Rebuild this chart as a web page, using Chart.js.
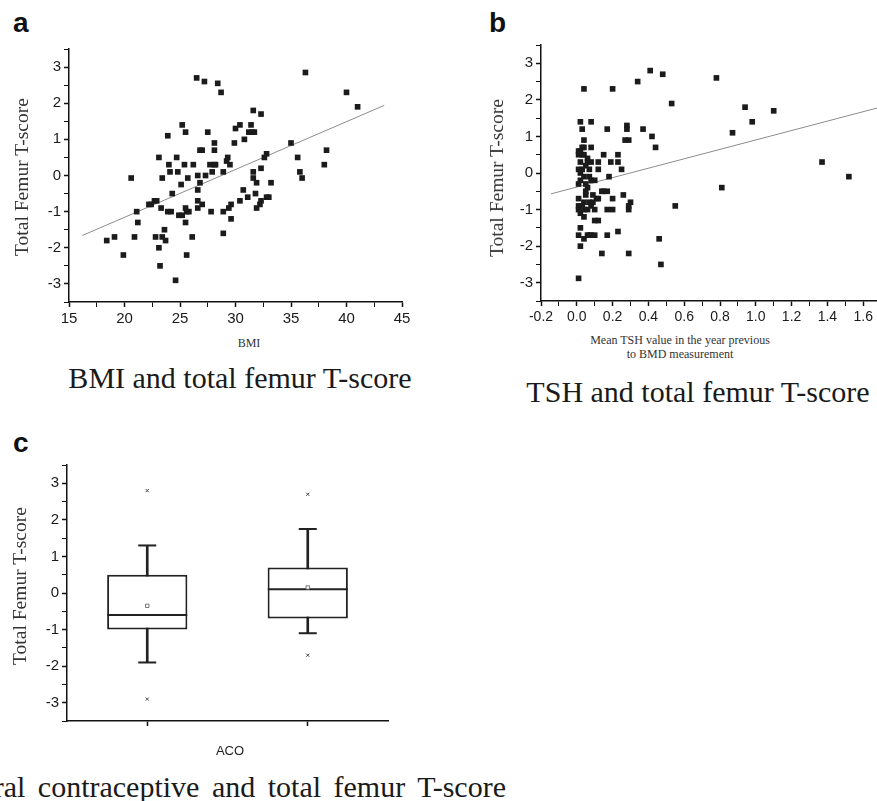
<!DOCTYPE html>
<html>
<head>
<meta charset="utf-8">
<script src="https://cdn.jsdelivr.net/npm/chart.js@4"></script>
<style>
html, body { margin: 0; padding: 0; width: 877px; height: 801px; overflow: hidden; background: #fff; }
.panel { position: absolute; }
.txt { position: absolute; white-space: nowrap; color: #1a1a1a; }
.letter { font: bold 28px "Liberation Sans", Arial, sans-serif; line-height: 28px; color: #111; }
.cap { font: 30px "Liberation Serif", "Times New Roman", serif; line-height: 30px; transform: translate(-50%, -50%); }
.ytitle { font: 19.5px "Liberation Serif", serif; line-height: 20px; color: #333; transform: translate(-50%, -50%) rotate(-90deg); }
.xtitle { font: 12px "Liberation Serif", serif; line-height: 14px; color: #333; text-align: center; transform: translate(-50%, -50%); }
</style>
</head>
<body>

<div class="txt letter" style="left:13px; top:9px;">a</div>
<div class="txt letter" style="left:489px; top:9px;">b</div>
<div class="txt letter" style="left:13px; top:429px;">c</div>

<div class="panel" style="left:19px; top:37px;"><canvas id="bmiChart" width="398" height="295"></canvas></div>
<div class="panel" style="left:491px; top:33px;"><canvas id="tshChart" width="423" height="298"></canvas></div>
<div class="panel" style="left:17px; top:453px;"><canvas id="acoChart" width="386" height="298"></canvas></div>

<div class="txt ytitle" style="left:22px; top:177px;">Total Femur T-score</div>
<div class="txt ytitle" style="left:497px; top:178px;">Total Femur T-score</div>
<div class="txt ytitle" style="left:20px; top:586px;">Total Femur T-score</div>

<div class="txt xtitle" style="left:249px; top:343px;">BMI</div>
<div class="txt xtitle" style="left:680px; top:347px;">Mean TSH value in the year previous<br>to BMD measurement</div>
<div class="txt" style="left:230px; top:750px; transform:translate(-50%,-50%); font:13px 'Liberation Sans', Arial, sans-serif; color:#222;">ACO</div>

<div class="txt cap" style="left:240px; top:378px;">BMI and total femur T-score</div>
<div class="txt cap" style="left:698px; top:392px;">TSH and total femur T-score</div>
<div class="txt" style="right:371px; top:772px; font:30px 'Liberation Serif', serif; line-height:30px; word-spacing:5px;">Oral contraceptive and total femur T-score</div>

<script>
// panel a: BMI vs T-score
var bmiX = [18.4, 19.1, 19.9, 20.6, 20.9, 21.1, 21.2, 22.2, 22.4, 22.7, 22.9, 22.8, 23.1, 23.1, 23.2, 23.3, 23.4, 23.4,
  23.6, 23.7, 23.9, 23.9, 24.0, 24.1, 24.2, 24.3, 24.6, 24.7, 24.8, 24.9, 25.1, 25.2, 25.2, 25.4, 25.5, 25.5, 25.5,
  25.6, 25.7, 25.6, 25.8, 26.1, 26.2, 26.5, 26.6, 26.6, 26.6, 26.6, 26.8, 26.8, 27.0, 27.0, 27.2, 27.3, 27.5, 27.8,
  27.7, 27.9, 28.1, 28.1, 28.1, 28.2, 28.4, 28.7, 28.9, 28.9, 28.9, 29.2, 29.3, 29.4, 29.5, 29.6, 29.6, 29.9, 30.0,
  30.4, 30.4, 30.7, 30.8, 31.1, 31.2, 31.4, 31.5, 31.6, 31.6, 31.6, 31.7, 31.8, 31.9, 31.9, 32.2, 32.3, 32.3, 32.3,
  32.6, 32.8, 32.8, 33.0, 33.2, 35.0, 35.6, 35.8, 36.0, 36.3, 38.0, 38.2, 40.0, 41.0];
var bmiY = [-1.8, -1.7, -2.2, -0.07, -1.7, -1.0, -1.3, -0.8, -0.8, -0.7, -0.7, -1.7, 0.5, -2.0, -2.5, -0.9, -0.07, -1.7,
  -1.5, -1.8, -1.0, 1.1, 0.3, 0.1, -1.0, -0.5, -2.9, 0.5, 0.1, -1.1, -0.25, -1.1, 1.4, 0.3, 1.2, -1.3, -0.9,
  -1.0, -0.07, -2.2, -1.0, -1.7, 0.3, 2.7, -0.4, -0.7, -0.9, 0.0, 0.7, -0.2, 0.7, -0.8, 2.6, 0.0, 1.2, -1.0,
  0.3, 0.1, 0.9, 0.7, 0.3, 0.3, 2.55, 2.3, 0.1, -1.0, -1.6, 0.4, 0.5, -0.9, 0.3, -0.8, -1.2, 0.9, 1.3,
  1.4, -0.7, -0.4, 1.0, -0.6, 1.2, 1.4, 1.2, 0.1, -0.07, 1.8, 1.2, -0.5, -0.9, -0.2, -0.8, -0.7, 0.2, 1.7,
  0.5, 0.6, -0.6, -0.6, -0.2, 0.9, 0.5, 0.1, -0.07, 2.85, 0.3, 0.7, 2.3, 1.9];
var bmiFitX = [16.2, 43.4];
var bmiFitY = [-1.66, 1.94];

// panel b: TSH vs T-score
var tshX = [0.01, 0.04, 0.2, 0.34, 0.41, 0.48, 0.53, 0.78, 0.94, 0.98, 1.10, 0.87, 1.37, 1.52, 0.81, 0.55, 0.46, 0.47,
  0.02, 0.08, 0.03, 0.17, 0.28, 0.28, 0.37, 0.04, 0.27, 0.29, 0.42, 0.44, 0.03, 0.04, 0.08, 0.01, 0.01, 0.04, 0.15,
  0.23, 0.06, 0.02, 0.06, 0.08, 0.12, 0.19, 0.23, 0.01, 0.07, 0.12, 0.25, 0.02, 0.04, 0.07, 0.18, 0.08, 0.10, 0.01,
  0.06, 0.05, 0.14, 0.17, 0.26, 0.01, 0.11, 0.2, 0.07, 0.09, 0.3, 0.01, 0.08, 0.29, 0.01, 0.04, 0.10, 0.17, 0.2,
  0.29, 0.02, 0.04, 0.10, 0.12, 0.02, 0.23, 0.01, 0.06, 0.08, 0.10, 0.17, 0.04, 0.02, 0.14, 0.29,
  0.02, 0.03, 0.05, 0.03, 0.02, 0.05, 0.04, 0.03, 0.06, 0.05, 0.09, 0.07, 0.12, 0.15];
var tshY = [-2.88, 2.3, 2.3, 2.5, 2.8, 2.7, 1.9, 2.6, 1.8, 1.4, 1.7, 1.1, 0.3, -0.1, -0.4, -0.9, -1.8, -2.5,
  1.4, 1.4, 1.2, 1.2, 1.3, 1.2, 1.2, 0.9, 0.9, 0.9, 1.0, 0.7, 0.7, 0.7, 0.7, 0.6, 0.5, 0.5, 0.5,
  0.5, 0.4, 0.3, 0.3, 0.3, 0.3, 0.3, 0.3, 0.1, 0.1, 0.1, 0.1, 0.0, -0.1, -0.1, -0.1, -0.2, -0.2, -0.3,
  -0.4, -0.6, -0.5, -0.5, -0.6, -0.7, -0.7, -0.7, -0.8, -0.8, -0.8, -0.9, -0.9, -0.9, -1.0, -1.0, -1.0, -1.0, -1.0,
  -1.0, -1.1, -1.2, -1.3, -1.3, -1.5, -1.6, -1.7, -1.7, -1.7, -1.7, -1.7, -1.8, -2.0, -2.2, -2.2,
  0.6, 0.5, 0.2, 0.1, -0.2, -0.3, -0.8, -0.9, -1.0, -0.5, -0.6, -1.7, -0.7, -0.5];
var tshFitX = [-0.144, 1.75];
var tshFitY = [-0.57, 1.87];

// panel c: box plot by oral contraceptive use
var acoGroups = ['No', 'Yes'];
var whiskerLow = [-1.9, -1.1];
var q1 = [-1.0, -0.7];
var median = [-0.6, 0.1];
var mean = [-0.35, 0.15];
var q3 = [0.5, 0.7];
var whiskerHigh = [1.3, 1.75];
var outlierHigh = [2.8, 2.7];
var outlierLow = [-2.9, -1.7];

Chart.defaults.font.family = '"Liberation Sans", Arial, sans-serif';
Chart.defaults.font.size = 15;
Chart.defaults.color = '#1a1a1a';
Chart.defaults.animation = false;

var axisColor = '#111';

function tScoreAxis() {
  return {
    min: -3.5, max: 3.5,
    ticks: { stepSize: 0.5, autoSkip: false, callback: function (v) { return Number.isInteger(v) ? v : ''; } },
    grid: { drawOnChartArea: false, tickLength: 5, color: axisColor,
      tickWidth: function (c) { return Number.isInteger(c.tick.value) ? 1.5 : 1; } },
    border: { color: axisColor, width: 1.5 },
    afterFit: function (s) { s.width = 50; }
  };
}

function baseOptions(xAxis) {
  return {
    responsive: false,
    layout: { autoPadding: false, padding: { top: 10, right: 15, left: 0, bottom: 0 } },
    plugins: { legend: { display: false }, tooltip: { enabled: false } },
    scales: { x: xAxis, y: tScoreAxis() }
  };
}

function pts(xs, ys) {
  return xs.map(function (x, i) { return { x: x, y: ys[i] }; });
}

var dotStyle = { pointStyle: 'rect', pointRadius: 4, pointBorderWidth: 0, backgroundColor: '#1b1b1b', order: 0 };
var fitStyle = { type: 'line', pointRadius: 0, borderColor: '#8c8c8c', borderWidth: 1, order: 1 };

new Chart(document.getElementById('bmiChart'), {
  type: 'scatter',
  data: {
    datasets: [
      Object.assign({ label: 'BMI', data: pts(bmiX, bmiY) }, dotStyle),
      Object.assign({ label: 'fit', data: pts(bmiFitX, bmiFitY) }, fitStyle)
    ]
  },
  options: baseOptions({
    type: 'linear', min: 15, max: 45,
    ticks: { stepSize: 2.5, autoSkip: false, maxRotation: 0,
      callback: function (v) { return v % 5 === 0 ? v : ''; } },
    grid: { drawOnChartArea: false, tickLength: 5, color: axisColor,
      tickWidth: function (c) { return c.tick.value % 5 === 0 ? 1.5 : 1; } },
    border: { color: axisColor, width: 1.5 },
    afterFit: function (s) { s.height = 30; }
  })
});

function isMajor02(v) { return Math.abs(v * 5 - Math.round(v * 5)) < 1e-6; }

new Chart(document.getElementById('tshChart'), {
  type: 'scatter',
  data: {
    datasets: [
      Object.assign({ label: 'TSH', data: pts(tshX, tshY) }, dotStyle),
      Object.assign({ label: 'fit', data: pts(tshFitX, tshFitY) }, fitStyle)
    ]
  },
  options: baseOptions({
    type: 'linear', min: -0.2, max: 1.8,
    ticks: { stepSize: 0.1, autoSkip: false, maxRotation: 0, font: { size: 14 },
      callback: function (v) { return isMajor02(v) ? v.toFixed(1) : ''; } },
    grid: { drawOnChartArea: false, tickLength: 5, color: axisColor,
      tickWidth: function (c) { return isMajor02(c.tick.value) ? 1.5 : 1; } },
    border: { color: axisColor, width: 1.5 },
    afterFit: function (s) { s.height = 30; }
  })
});

function markers(data, style, radius, width, order) {
  return { type: 'line', data: data, showLine: false, pointStyle: style, pointRadius: radius,
    pointBorderWidth: width, borderColor: '#222', pointBackgroundColor: '#fff', order: order };
}

new Chart(document.getElementById('acoChart'), {
  type: 'bar',
  data: {
    labels: acoGroups,
    datasets: [
      { type: 'bar', label: 'whisker', data: whiskerLow.map(function (v, i) { return [v, whiskerHigh[i]]; }),
        backgroundColor: '#222', barThickness: 2, grouped: false, order: 5 },
      { type: 'bar', label: 'IQR', data: q1.map(function (v, i) { return [v, q3[i]]; }),
        backgroundColor: '#fff', borderColor: '#222', borderWidth: 2, borderSkipped: false,
        barPercentage: 0.5, categoryPercentage: 1, grouped: false, order: 4 },
      markers(whiskerHigh, 'line', 9, 2, 3),
      markers(whiskerLow, 'line', 9, 2, 3),
      markers(median, 'line', 40, 2, 2),
      Object.assign(markers(mean, 'rect', 2.4, 0.8, 1), { borderColor: '#555' }),
      Object.assign(markers(outlierHigh, 'crossRot', 2.2, 1, 1), { borderColor: '#444' }),
      Object.assign(markers(outlierLow, 'crossRot', 2.2, 1, 1), { borderColor: '#444' })
    ]
  },
  options: baseOptions({
    type: 'category', offset: true,
    ticks: { callback: function () { return ''; } },
    grid: { offset: false, drawOnChartArea: false, tickLength: 5, color: axisColor, tickWidth: 1.5 },
    border: { color: axisColor, width: 1.5 },
    afterFit: function (s) { s.height = 30; }
  })
});
</script>
</body>
</html>
